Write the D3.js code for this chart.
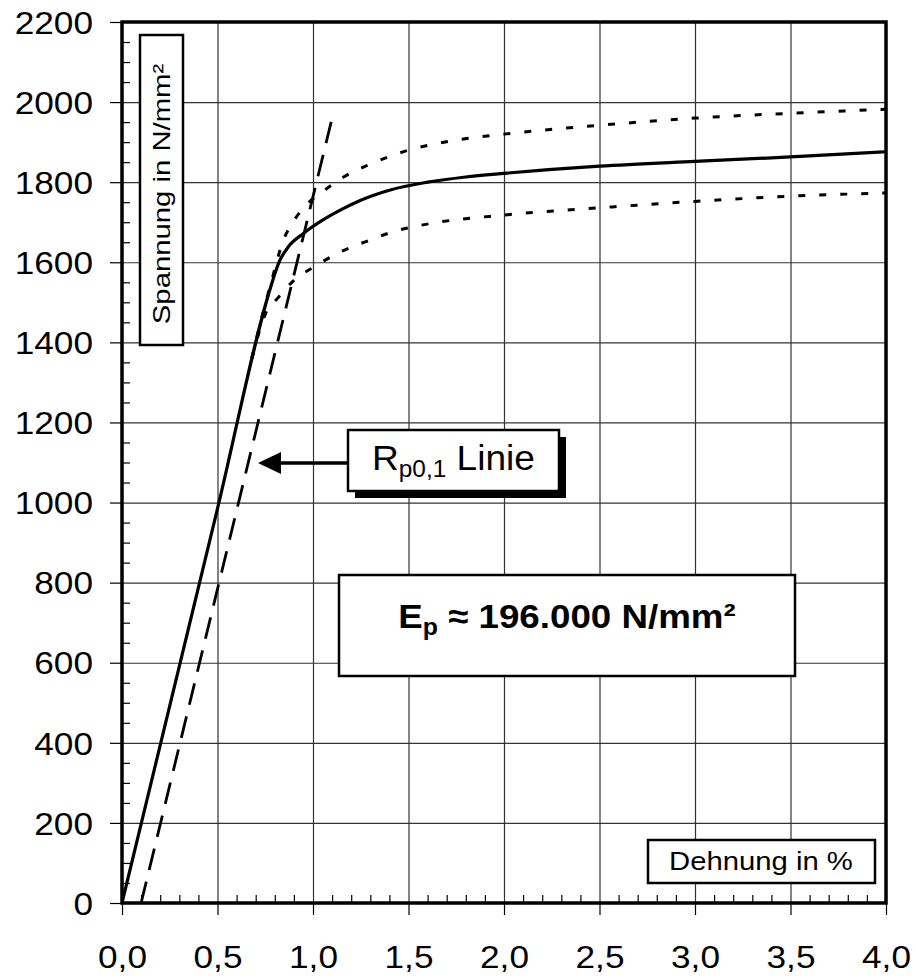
<!DOCTYPE html>
<html>
<head>
<meta charset="utf-8">
<script src="https://cdn.jsdelivr.net/npm/d3@7"></script>
<style>
  body { margin: 0; background: #fff; }
  text { font-family: "Liberation Sans", Arial, sans-serif; fill: #000; }
</style>
</head>
<body>
<svg id="chart" width="916" height="979"></svg>
<script>
// tick values
const xMajor = [0, 0.5, 1, 1.5, 2, 2.5, 3, 3.5, 4];
const yMajor = [0, 200, 400, 600, 800, 1000, 1200, 1400, 1600, 1800, 2000, 2200];

// measured curve (Dehnung %, Spannung N/mm²)
const meanStrain = [0, 0.5, 0.79, 0.82, 0.87, 0.95, 1.05, 1.15, 1.25, 1.4, 1.6, 1.8, 2.0, 2.5, 3.0, 3.5, 4.0];
const meanStress = [0, 985, 1556, 1598, 1638, 1672, 1705, 1732, 1755, 1780, 1800, 1813, 1822, 1840, 1852, 1863, 1876];

// upper dotted bound
const upperStrain = [0.68, 0.72, 0.78, 0.845, 0.895, 0.975, 1.06, 1.16, 1.3, 1.5, 1.75, 2.0, 2.5, 3.0, 3.5, 4.0];
const upperStress = [1360, 1440, 1548, 1655, 1700, 1748, 1780, 1813, 1845, 1880, 1905, 1920, 1942, 1960, 1972, 1982];

// lower dotted bound
const lowerStrain = [0.68, 0.75, 0.82, 0.9, 1.0, 1.1, 1.2, 1.31, 1.41, 1.52, 1.63, 2.0, 2.5, 3.0, 3.5, 4.0];
const lowerStress = [1360, 1470, 1513, 1555, 1587, 1615, 1638, 1657, 1675, 1688, 1698, 1718, 1736, 1752, 1765, 1773];

// Rp0,1 line (offset 0,1 %)
const rpStrain = [0.1, 1.1];
const rpStress = [0, 1960];

const svg = d3.select('#chart');
const x = d3.scaleLinear().domain([0, 4]).range([122, 886]);
const y = d3.scaleLinear().domain([0, 2200]).range([903, 22]);
const W = 886 - 122, H = 903 - 22;
const STRETCH = 1.1;

let stretch = (sel, f) => {
    sel.each(function() {
        const l = this.getComputedTextLength();
        d3.select(this).attr('textLength', l * f).attr('lengthAdjust', 'spacingAndGlyphs');
    });
};

svg.append('rect').attr('width', 916).attr('height', 979).attr('fill', '#fff');

svg.append('clipPath').attr('id', 'plot')
    .append('rect').attr('x', 122).attr('y', 22).attr('width', W).attr('height', H);

// grid
svg.append('g')
    .attr('transform', `translate(0,903)`)
    .call(d3.axisBottom(x).tickValues(xMajor).tickSize(-H).tickFormat(''))
    .call(g => g.select('.domain').remove())
    .selectAll('line').attr('stroke', '#333').attr('stroke-width', 1.2);
svg.append('g')
    .attr('transform', `translate(122,0)`)
    .call(d3.axisLeft(y).tickValues(yMajor).tickSize(-W).tickFormat(''))
    .call(g => g.select('.domain').remove())
    .selectAll('line').attr('stroke', '#333').attr('stroke-width', 1.2);

// curves
const curves = svg.append('g').attr('clip-path', 'url(#plot)');
const line = d3.line().x(d => x(d[0])).y(d => y(d[1])).curve(d3.curveMonotoneX);

curves.append('path')
    .datum(upperStrain.map((v, i) => [v, upperStress[i]]))
    .attr('d', line).attr('fill', 'none').attr('stroke', '#000')
    .attr('stroke-width', 3).attr('stroke-dasharray', '7,14');
curves.append('path')
    .datum(lowerStrain.map((v, i) => [v, lowerStress[i]]))
    .attr('d', line).attr('fill', 'none').attr('stroke', '#000')
    .attr('stroke-width', 3).attr('stroke-dasharray', '7,14');
curves.append('path')
    .datum(rpStrain.map((v, i) => [v, rpStress[i]]))
    .attr('d', d3.line().x(d => x(d[0])).y(d => y(d[1])))
    .attr('fill', 'none').attr('stroke', '#000')
    .attr('stroke-width', 2.8).attr('stroke-dasharray', '22,12');
curves.append('path')
    .datum(meanStrain.map((v, i) => [v, meanStress[i]]))
    .attr('d', line).attr('fill', 'none').attr('stroke', '#000')
    .attr('stroke-width', 3.2);

// frame
svg.append('rect').attr('x', 122).attr('y', 22).attr('width', W).attr('height', H)
    .attr('fill', 'none').attr('stroke', '#000').attr('stroke-width', 3.5);

// minor ticks (inside)
const xMinor = d3.range(1, 40).map(i => i / 10).filter(v => Math.round(v * 10) % 5 !== 0);
const yMinor = d3.range(1, 44).map(i => i * 50).filter(v => v % 200 !== 0);
svg.append('g')
    .attr('transform', `translate(0,903)`)
    .call(d3.axisTop(x).tickValues(xMinor).tickSize(8).tickFormat(''))
    .call(g => g.select('.domain').remove())
    .selectAll('line').attr('stroke', '#000').attr('stroke-width', 1.2);
svg.append('g')
    .attr('transform', `translate(122,0)`)
    .call(d3.axisRight(y).tickValues(yMinor).tickSize(8).tickFormat(''))
    .call(g => g.select('.domain').remove())
    .selectAll('line').attr('stroke', '#000').attr('stroke-width', 1.2);

// major axes with labels
const xAxis = svg.append('g')
    .attr('transform', `translate(0,903)`)
    .call(d3.axisBottom(x).tickValues(xMajor).tickSize(12)
        .tickFormat(d => d.toFixed(1).replace('.', ',')))
    .call(g => g.select('.domain').remove());
xAxis.selectAll('line').attr('stroke', '#000').attr('stroke-width', 1.2);
xAxis.selectAll('text')
    .attr('y', 65).attr('dy', null)
    .style('font-size', '32px').style('font-family', '"Liberation Sans", Arial, sans-serif')
    .attr('fill', '#000');
stretch(xAxis.selectAll('text'), STRETCH);

const yAxis = svg.append('g')
    .attr('transform', `translate(122,0)`)
    .call(d3.axisLeft(y).tickValues(yMajor).tickSize(12).tickFormat(d => String(d)))
    .call(g => g.select('.domain').remove());
yAxis.selectAll('line').attr('stroke', '#000').attr('stroke-width', 1.2);
yAxis.selectAll('text')
    .attr('x', -29).attr('dy', '0.35em')
    .style('font-size', '32px').style('font-family', '"Liberation Sans", Arial, sans-serif')
    .attr('fill', '#000');
stretch(yAxis.selectAll('text'), STRETCH);

// y title box
svg.append('rect').attr('x', 140).attr('y', 35).attr('width', 43).attr('height', 310)
    .attr('fill', '#fff').attr('stroke', '#000').attr('stroke-width', 2.5);
const yTitle = svg.append('text')
    .attr('transform', 'translate(170,194) rotate(-90)')
    .attr('text-anchor', 'middle')
    .style('font-size', '24px')
    .text('Spannung in N/mm²');
stretch(yTitle, 1.22);

// x title box
svg.append('rect').attr('x', 648).attr('y', 840).attr('width', 227).attr('height', 43)
    .attr('fill', '#fff').attr('stroke', '#000').attr('stroke-width', 2.5);
const xTitle = svg.append('text')
    .attr('x', 761).attr('y', 870)
    .attr('text-anchor', 'middle')
    .style('font-size', '25px')
    .text('Dehnung in %');
stretch(xTitle, 1.17);

// Rp0,1 annotation with arrow
svg.append('rect').attr('x', 355).attr('y', 437).attr('width', 211).attr('height', 61)
    .attr('fill', '#000');
svg.append('rect').attr('x', 348).attr('y', 430).attr('width', 211).attr('height', 61)
    .attr('fill', '#fff').attr('stroke', '#000').attr('stroke-width', 2.5);
svg.append('line').attr('x1', 275).attr('y1', 463).attr('x2', 348).attr('y2', 463)
    .attr('stroke', '#000').attr('stroke-width', 3.5);
svg.append('path').attr('d', 'M258,463 L281,452 L281,474 Z').attr('fill', '#000');
const rpText = svg.append('text').attr('x', 372).attr('y', 470).style('font-size', '35px');
rpText.append('tspan').text('R');
rpText.append('tspan').attr('dy', 7).style('font-size', '23px').text('p0,1');
rpText.append('tspan').attr('dy', -7).text(' Linie');
stretch(rpText, 1.06);

// E-modulus box
svg.append('rect').attr('x', 339).attr('y', 575).attr('width', 456).attr('height', 101)
    .attr('fill', '#fff').attr('stroke', '#000').attr('stroke-width', 2.5);
const eText = svg.append('text').attr('x', 567).attr('y', 628)
    .attr('text-anchor', 'middle').style('font-size', '34px').style('font-weight', 'bold');
eText.append('tspan').text('E');
eText.append('tspan').attr('dy', 7).style('font-size', '23px').text('p');
eText.append('tspan').attr('dy', -7).text(' ≈ 196.000 N/mm²');
stretch(eText, 1.08);
</script>
</body>
</html>
